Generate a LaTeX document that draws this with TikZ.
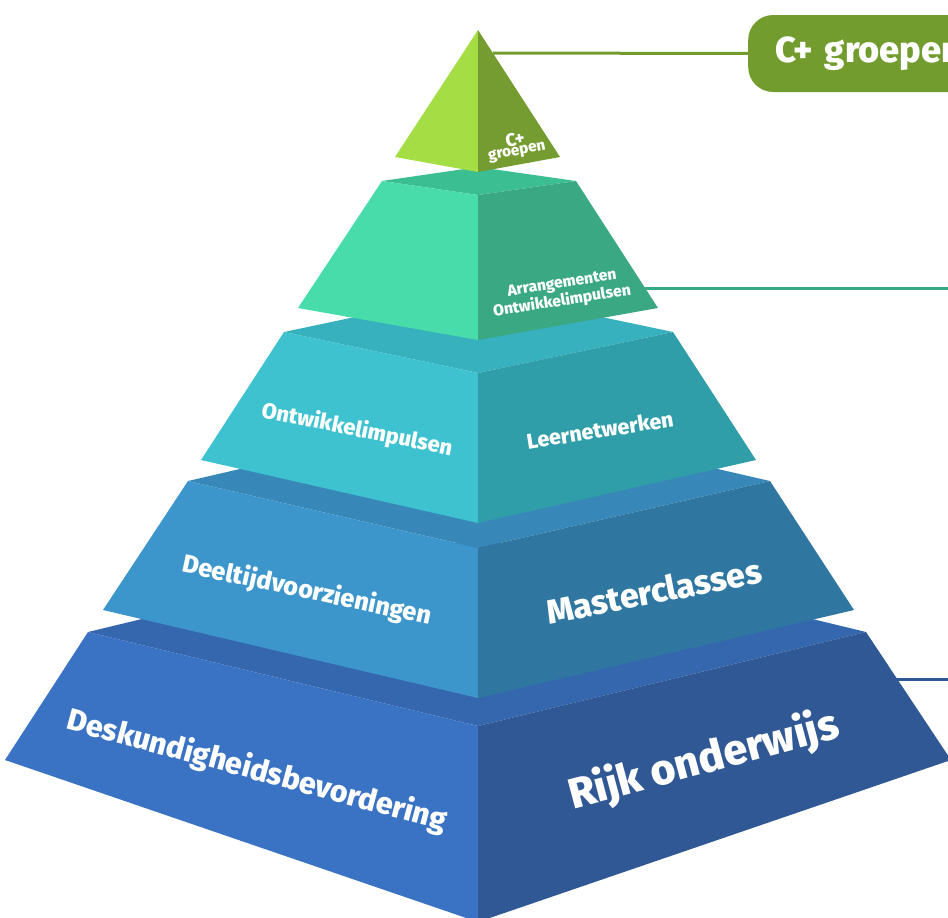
\documentclass[tikz,border=0pt]{standalone}
\usepackage{fontspec}
\setmainfont{Fira Sans}[BoldFont={Fira Sans ExtraBold}]
\usepackage{graphicx}
\definecolor{gL}{HTML}{A4DE44}
\definecolor{gR}{HTML}{759C30}
\definecolor{gBox}{HTML}{739C2F}
\definecolor{tbL}{HTML}{47DCAA}
\definecolor{tbR}{HTML}{3AA983}
\definecolor{tbT}{HTML}{3BBF92}
\definecolor{tcL}{HTML}{3EC2CF}
\definecolor{tcR}{HTML}{2F9EA8}
\definecolor{tcT}{HTML}{36B1BD}
\definecolor{tdL}{HTML}{3D96CB}
\definecolor{tdR}{HTML}{2F77A1}
\definecolor{tdT}{HTML}{3788B9}
\definecolor{teL}{HTML}{3A72C4}
\definecolor{teR}{HTML}{2F5895}
\definecolor{teT}{HTML}{3467AE}
\newcommand\fitto[2]{\resizebox{#1pt}{!}{\bfseries #2}}
\begin{document}
\begin{tikzpicture}[x=1pt,y=-1pt,
  lbl/.style={text=white,inner sep=0pt,font=\bfseries},
  conn/.style={line width=3pt}]
\useasboundingbox (0,0) rectangle (948,918);
\clip (0,0) rectangle (948,918);
% ---------- tier 5 ----------
\coordinate (e-tl) at (88,632); \coordinate (e-tr) at (866,632);
\coordinate (e-tf) at (478,726); \coordinate (e-tb) at (478,538);
\coordinate (e-bl) at (5,760); \coordinate (e-br) at (951,760);
\coordinate (e-bf) at (478,922);
\coordinate (e-line) at (895,679); \coordinate (e-end) at (950,679);
\draw[conn,teR] (e-line) -- (e-end);
\fill[teT] (e-tl) -- (e-tb) -- (e-tr) -- (e-tf) -- cycle;
\fill[teL] (e-tl) -- (e-tf) -- (e-bf) -- (e-bl) -- cycle;
\fill[teR] (e-tf) -- (e-tr) -- (e-br) -- (e-bf) -- cycle;
% ---------- tier 4 ----------
\coordinate (d-tl) at (188,481); \coordinate (d-tr) at (770,481);
\coordinate (d-tf) at (478,548); \coordinate (d-tb) at (478,414);
\coordinate (d-bl) at (103,610); \coordinate (d-br) at (854,610);
\coordinate (d-bf) at (478,698);
\fill[tdT] (d-tl) -- (d-tb) -- (d-tr) -- (d-tf) -- cycle;
\fill[tdL] (d-tl) -- (d-tf) -- (d-bf) -- (d-bl) -- cycle;
\fill[tdR] (d-tf) -- (d-tr) -- (d-br) -- (d-bf) -- cycle;
% ---------- tier 3 ----------
\coordinate (c-tl) at (284,332); \coordinate (c-tr) at (673,332);
\coordinate (c-tf) at (478,373); \coordinate (c-tb) at (478,291);
\coordinate (c-bl) at (201,460); \coordinate (c-br) at (756,460);
\coordinate (c-bf) at (478,523);
\fill[tcT] (c-tl) -- (c-tb) -- (c-tr) -- (c-tf) -- cycle;
\fill[tcL] (c-tl) -- (c-tf) -- (c-bf) -- (c-bl) -- cycle;
\fill[tcR] (c-tf) -- (c-tr) -- (c-br) -- (c-bf) -- cycle;
% ---------- tier 2 ----------
\coordinate (b-tl) at (382,181); \coordinate (b-tr) at (576,181);
\coordinate (b-tf) at (478,195); \coordinate (b-tb) at (478,167);
\coordinate (b-bl) at (298,308); \coordinate (b-br) at (658,308);
\coordinate (b-bf) at (478,340);
\coordinate (b-line) at (645,288); \coordinate (b-end) at (950,288);
\draw[conn,tbR] (b-line) -- (b-end);
\fill[tbT] (b-tl) -- (b-tb) -- (b-tr) -- (b-tf) -- cycle;
\fill[tbL] (b-tl) -- (b-tf) -- (b-bf) -- (b-bl) -- cycle;
\fill[tbR] (b-tf) -- (b-tr) -- (b-br) -- (b-bf) -- cycle;
% ---------- tier 1 ----------
\coordinate (a-top) at (478,30); \coordinate (a-l) at (395,157);
\coordinate (a-f) at (478,172); \coordinate (a-r) at (560,157);
\coordinate (a-line) at (493,53);
\node[fill=gBox,rounded corners=25pt,minimum height=77pt,minimum width=260pt,
      anchor=west,text=white,align=left,inner xsep=27pt,text width=206pt]
      (cbox) at (748,53.5) {\fitto{187}{C+ groepen}};
\draw[conn,gBox] (a-line) -- (cbox.west);
\fill[gL] (a-top) -- (a-f) -- (a-l) -- cycle;
\fill[gR] (a-top) -- (a-r) -- (a-f) -- cycle;
% ---------- labels ----------
\node[lbl,rotate=11] (l1a) at (515,139) {\fitto{19}{C+}};
\node[lbl,rotate=11] (l1b) at (517,152) {\fitto{58}{groepen}};
\node[lbl,rotate=9] (l2a) at (562,284) {\fitto{110}{Arrangementen}};
\node[lbl,rotate=9] (l2b) at (562,301) {\fitto{139}{Ontwikkelimpulsen}};
\node[lbl,rotate=-11.5] (l3a) at (357,430) {\fitto{194}{Ontwikkelimpulsen}};
\node[lbl,rotate=9] (l3b) at (600,430) {\fitto{148}{Leernetwerken}};
\node[lbl,rotate=-12] (l4a) at (307,591) {\fitto{254}{Deeltijdvoorzieningen}};
\node[lbl,rotate=11] (l4b) at (654,591) {\fitto{218}{Masterclasses}};
\node[lbl,rotate=-15] (l5a) at (257,771) {\fitto{392}{Deskundigheidsbevordering}};
\node[lbl,rotate=15] (l5b) at (704,761) {\fitto{278}{Rijk onderwijs}};
\end{tikzpicture}
\end{document}
